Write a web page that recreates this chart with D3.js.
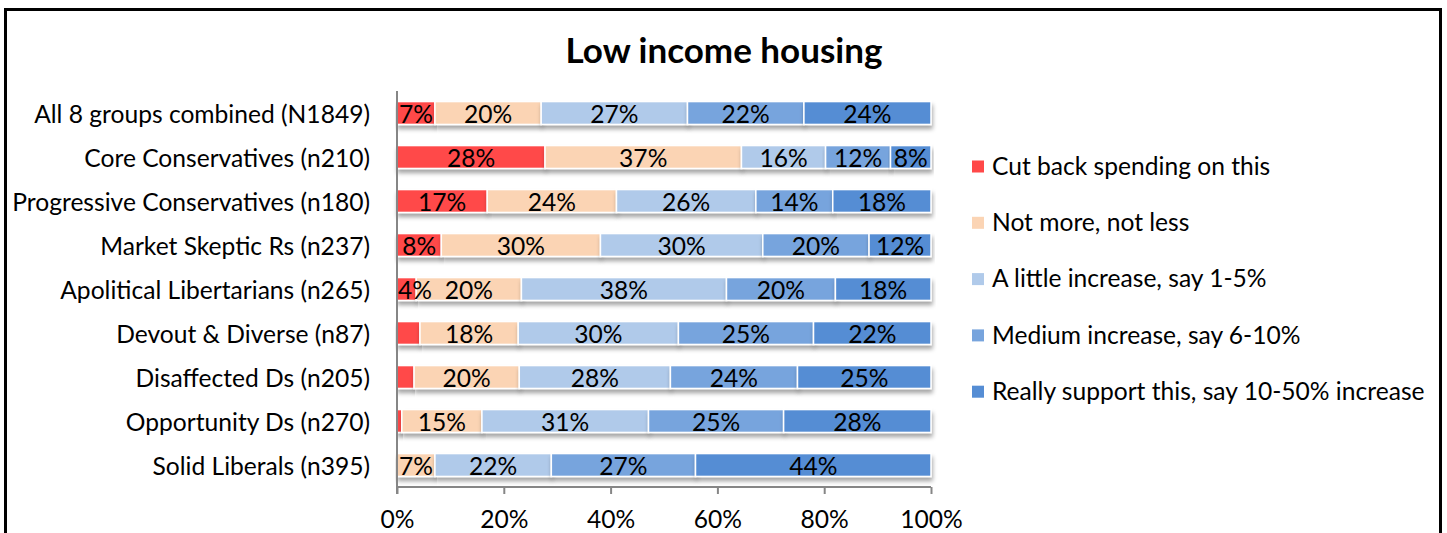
<!DOCTYPE html>
<html>
<head>
<meta charset="utf-8">
<script src="https://cdn.jsdelivr.net/npm/d3@7"></script>
<style>
  body { margin: 0; background: #fff; }
  svg { display: block; font-family: Lato, "Open Sans", sans-serif; }
</style>
</head>
<body>
<script>
// categories (top to bottom)
var groups = [
    "All 8 groups combined (N1849)",
    "Core Conservatives (n210)",
    "Progressive Conservatives (n180)",
    "Market Skeptic Rs (n237)",
    "Apolitical Libertarians (n265)",
    "Devout & Diverse (n87)",
    "Disaffected Ds (n205)",
    "Opportunity Ds (n270)",
    "Solid Liberals (n395)"
];

// answer categories (legend order)
var answers = [
    "Cut back spending on this",
    "Not more, not less",
    "A little increase, say 1-5%",
    "Medium increase, say 6-10%",
    "Really support this, say 10-50% increase"
];

// percent per group, one array per answer
var cutBack  = [7.1, 27.8, 16.9,  8.3,  3.6,  4.3,  3.2,  0.9,  0.0];
var noChange = [19.9, 36.9, 24.2, 29.8, 19.7, 18.4, 19.7, 15.0,  7.1];
var little   = [27.4, 15.8, 26.1, 30.4, 38.4, 30.0, 28.3, 31.2, 21.8];
var medium   = [21.8, 12.2, 14.4, 19.9, 20.4, 25.3, 23.8, 25.3, 27.0];
var really   = [23.8,  7.6, 18.4, 11.6, 17.9, 22.0, 25.0, 27.6, 44.1];

var xTicks = [0, 0.2, 0.4, 0.6, 0.8, 1];

// data labels that were left off in the original
var hiddenLabels = [["Devout & Diverse (n87)", 0]];

var colors = ["#ff4848", "#fbd4b4", "#b0caea", "#77a4dd", "#558dd4"];

var W = 1447, H = 533, fs = 24.6;
var svg = d3.select("body").append("svg").attr("width", W).attr("height", H);

// drop shadow for bars
var defs = svg.append("defs");
var f = defs.append("filter").attr("id", "shadow")
    .attr("x", "-5%").attr("y", "-30%").attr("width", "110%").attr("height", "180%");
f.append("feDropShadow").attr("dx", 1).attr("dy", 4).attr("stdDeviation", 2)
    .attr("flood-color", "#000").attr("flood-opacity", 0.35);

// chart frame (bottom runs past the picture)
svg.append("rect").attr("x", 5.5).attr("y", 9.5).attr("width", 1435).attr("height", 600)
    .attr("fill", "#fff").attr("stroke", "#000").attr("stroke-width", 3);

// title
svg.append("text").attr("x", 724).attr("y", 63).attr("text-anchor", "middle")
    .attr("font-size", 35).attr("font-weight", "bold").text("Low income housing");

var x = d3.scaleLinear().domain([0, 1]).range([397, 931]);
var y = d3.scaleBand().domain(groups).range([91, 487]).paddingInner(0.48).paddingOuter(0.24);

// build table and stack (normalised to 100%)
var series = [cutBack, noChange, little, medium, really];
var table = groups.map(function(g, i) {
    var row = { group: g };
    answers.forEach(function(a, j) { row[a] = series[j][i]; });
    return row;
});
var stack = d3.stack().keys(answers).offset(d3.stackOffsetExpand);
var layers = stack(table);

var bars = svg.append("g");
layers.forEach(function(layer, j) {
    var gl = bars.append("g").attr("fill", colors[j]);
    gl.selectAll("rect").data(layer).join("rect")
        .attr("x", function(d) { return x(d[0]); })
        .attr("y", function(d) { return y(d.data.group); })
        .attr("width", function(d) { return x(d[1]) - x(d[0]); })
        .attr("height", y.bandwidth())
        .attr("stroke", "#fff").attr("stroke-width", 1.5)
        .attr("filter", "url(#shadow)");
});

// value labels
var labels = svg.append("g").attr("font-size", fs).attr("text-anchor", "middle");
layers.forEach(function(layer, j) {
    layer.forEach(function(d) {
        var v = d.data[answers[j]];
        var hidden = v < 3.5 || hiddenLabels.some(function(h) { return h[0] == d.data.group && h[1] == j; });
        if (hidden) return;
        labels.append("text")
            .attr("x", Math.max((x(d[0]) + x(d[1])) / 2, 415))
            .attr("y", y(d.data.group) + y.bandwidth() / 2)
            .attr("dy", "0.4em")
            .text(Math.round(v) + "%");
    });
});

// axes
var xAxis = svg.append("g").attr("transform", "translate(0,487)")
    .call(d3.axisBottom(x).tickValues(xTicks).tickFormat(d3.format(".0%")).tickSize(7).tickPadding(17));
var yAxis = svg.append("g").attr("transform", "translate(397,0)")
    .call(d3.axisLeft(y).tickSize(0).tickPadding(27));
[xAxis, yAxis].forEach(function(a) {
    a.selectAll("path, line").attr("stroke", "#868686").attr("stroke-width", 2);
    a.selectAll("text").attr("font-size", fs).attr("font-family", "Lato, sans-serif").attr("fill", "#000");
});
yAxis.selectAll("text").attr("dy", "0.4em");
xAxis.select(".domain").attr("d", "M397,0H931");
yAxis.select(".domain").attr("d", "M0,91V494");

// legend
var legend = svg.append("g");
answers.forEach(function(a, j) {
    var ly = 166 + j * 56.3;
    legend.append("rect").attr("x", 972).attr("y", ly - 5.5).attr("width", 12).attr("height", 12)
        .attr("fill", colors[j]);
    legend.append("text").attr("x", 992).attr("y", ly).attr("dy", "0.36em")
        .attr("font-size", fs).text(a);
});
</script>
</body>
</html>
